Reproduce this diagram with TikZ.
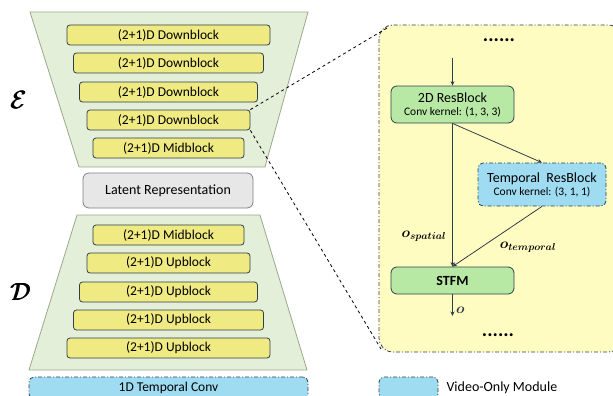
\documentclass[tikz,border=0pt]{standalone}
\usepackage{amsmath,amssymb,bm}
\usepackage{fontspec}
\setmainfont{Carlito}
\usepackage{xcolor}
\usetikzlibrary{arrows.meta}

\definecolor{trapfill}{HTML}{E3EFD9}
\definecolor{trapline}{HTML}{9AA88A}
\definecolor{blockyellow}{HTML}{F0EA82}
\definecolor{panelyellow}{HTML}{FFFCC2}
\definecolor{resgreen}{HTML}{B8E9A4}
\definecolor{videoblue}{HTML}{9FDCF2}
\definecolor{latentgray}{HTML}{E7E7E7}
\definecolor{edge}{HTML}{2F3F4A}

\tikzset{
  dashdot/.style={dash pattern=on 4pt off 2pt on 1pt off 2pt},
  yblock/.style={draw=edge, line width=0.8pt, fill=blockyellow, rounded corners=3pt, minimum height=20pt,
    inner sep=0pt, font=\fontsize{13.5}{15}\selectfont},
  gblock/.style={draw=edge, line width=0.8pt, fill=resgreen, rounded corners=6pt, minimum width=123pt,
    inner sep=0pt, align=center},
  vblock/.style={draw=edge, line width=0.8pt, fill=videoblue, dashdot, rounded corners=5pt, inner sep=0pt, align=center},
  flow/.style={edge, line width=0.8pt, -{Stealth[length=4.5pt,width=4pt]}},
  mlabel/.style={font=\fontsize{14}{16}\selectfont},
}

\begin{document}
\begin{tikzpicture}[x=1pt, y=-1pt]
\useasboundingbox (0,0) rectangle (613,396);

% encoder / decoder bodies
\draw[trapline, line width=0.8pt, fill=trapfill] (30,12) -- (308,12) -- (265,167) -- (79,167) -- cycle;
\draw[trapline, line width=0.8pt, fill=trapfill] (77,215) -- (260,215) -- (307,370) -- (29,370) -- cycle;

\node at (19,100) {\fontsize{30}{30}\selectfont$\pmb{\mathcal{E}}$};
\node at (21,292) {\fontsize{30}{30}\selectfont$\pmb{\mathcal{D}}$};

\foreach \i/\y/\w/\t in {1/35/203/Downblock, 2/63/190/Downblock, 3/92/178/Downblock, 4/120/163/Downblock, 5/148/151/Midblock}
    \node[yblock, minimum width=\w pt] (e\i) at (168.5,\y) {(2+1)D \t};

\node[draw=gray, line width=0.8pt, fill=latentgray, rounded corners=6pt, minimum width=170pt, minimum height=35pt,
  font=\fontsize{14}{16}\selectfont] (latent) at (168,190.5) {Latent Representation};

\foreach \i/\y/\w/\t in {1/235/151/Midblock, 2/263/163/Upblock, 3/292/178/Upblock, 4/320/190/Upblock, 5/348/203/Upblock}
    \node[yblock, minimum width=\w pt] (d\i) at (168.5,\y) {(2+1)D \t};

\node[vblock, minimum width=279pt, minimum height=22pt, font=\fontsize{13.5}{15}\selectfont] (tconv) at (168.5,388) {1D Temporal Conv};

% zoomed view of one block
\draw[edge, line width=0.8pt, fill=panelyellow, dashdot, rounded corners=14pt] (379,25) rectangle (622,352);
\coordinate (ztop) at (387,28);
\coordinate (zbot) at (381,349);
\draw[dashed, line width=0.8pt] (e4.north east) -- (ztop);
\draw[dashed, line width=0.8pt] (e4.south east) -- (zbot);

\node (dtop) at (499,40) {\fontsize{20}{20}\selectfont\bfseries ......};
\node (dbot) at (498,335) {\fontsize{20}{20}\selectfont\bfseries ......};

\node[gblock, minimum height=37pt] (res2d) at (452.5,104.5)
  {{\fontsize{14}{16}\selectfont 2D ResBlock}\\[1pt] {\fontsize{11.5}{13}\selectfont Conv kernel: (1, 3, 3)}};
\node[vblock, minimum width=128pt, minimum height=43pt] (restmp) at (542,184.5)
  {{\fontsize{14}{16}\selectfont Temporal\ \ ResBlock}\\[1pt] {\fontsize{11.5}{13}\selectfont Conv kernel: (3, 1, 1)}};
\node[gblock, minimum height=27pt, font=\fontsize{14}{16}\selectfont\bfseries] (stfm) at (452.5,280.5) {STFM};

\coordinate (in) at (452.5,58);
\coordinate (out) at (452.5,316);
\draw[flow] (in) -- (res2d.north);
\draw[flow] (res2d.south) -- (stfm.north);
\draw[flow] (res2d.south) -- (restmp.north);
\draw[flow] (restmp.south) -- (stfm.north);
\draw[flow] (stfm.south) -- (out) node[right, pos=0.75, mlabel] {$\boldsymbol{o}$};

\node[mlabel] at (424,236) {$\boldsymbol{o_{spatial}}$};
\node[mlabel] at (528,247) {$\boldsymbol{o_{temporal}}$};

% legend
\node[vblock, minimum width=59pt, minimum height=22pt] (legbox) at (408.5,388) {};
\node[right, font=\fontsize{14}{16}\selectfont] (legtext) at (443,388) {Video-Only Module};
\end{tikzpicture}
\end{document}
